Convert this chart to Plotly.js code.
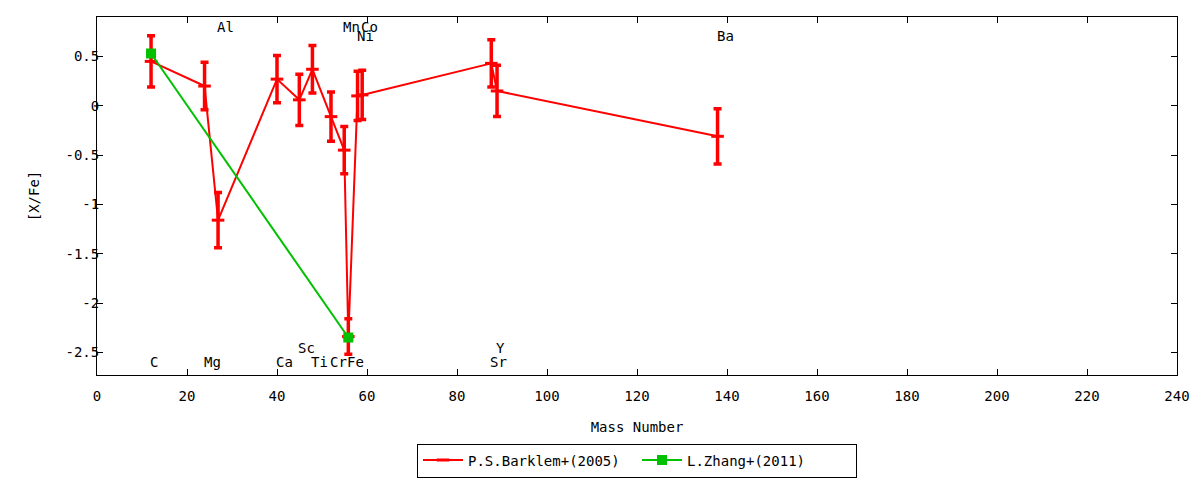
<!DOCTYPE html>
<html>
<head>
<meta charset="utf-8">
<script src="https://cdn.plot.ly/plotly-3.0.1.min.js"></script>
<style>
  html, body { margin: 0; padding: 0; background: #fff; }
  #chart { width: 1200px; height: 480px; }
</style>
</head>
<body>
<div id="chart"></div>
<script>
// P.S.Barklem+(2005)
var elements = ['C', 'Mg', 'Al', 'Ca', 'Sc', 'Ti', 'Cr', 'Mn', 'Fe', 'Ni', 'Co', 'Sr', 'Y', 'Ba'];
var mass     = [12.01, 23.9, 26.9, 40.0, 44.96, 47.87, 52.0, 54.94, 55.85, 57.9, 58.93, 87.62, 88.9, 137.9];
var barklem  = [0.45, 0.20, -1.16, 0.27, 0.06, 0.37, -0.11, -0.45, -2.34, 0.10, 0.11, 0.43, 0.15, -0.31];
var barklemErr = [0.26, 0.24, 0.28, 0.24, 0.26, 0.24, 0.25, 0.24, 0.18, 0.25, 0.25, 0.24, 0.26, 0.28];

// L.Zhang+(2011)
var zhangMass = [12.01, 55.85];
var zhang     = [0.53, -2.35];
var zhangErr  = [0.0, 0.0];

// which row each element name sits in (top rows / bottom rows)
var labelRow = ['b1', 'b1', 't1', 'b1', 'b2', 'b1', 'b1', 't1', 'b1', 't2', 't1', 'b1', 'b2', 't2'];
var rowY = { t1: 0.80, t2: 0.71, b2: -2.46, b1: -2.60 };

var yTicks = [0.5, 0, -0.5, -1, -1.5, -2, -2.5];
var yTickText = ['0.5', '0', '-0.5', '-1', '-1.5', '-2', '-2.5'];

var font = { family: 'DejaVu Sans Mono, monospace', size: 14, color: '#000' };

var traces = [
  {
    x: mass, y: barklem,
    name: 'P.S.Barklem+(2005)',
    type: 'scatter', mode: 'lines+markers',
    line: { color: '#ff0000', width: 2 },
    marker: { symbol: 'line-ew', size: 9, line: { color: '#ff0000', width: 3 } },
    error_y: { type: 'data', array: barklemErr, visible: true, color: '#ff0000', thickness: 3.5, width: 4 }
  },
  {
    x: zhangMass, y: zhang,
    name: 'L.Zhang+(2011)',
    type: 'scatter', mode: 'lines+markers',
    line: { color: '#00c000', width: 2 },
    marker: { symbol: 'square', size: 10, color: '#00c000' },
    error_y: { type: 'data', array: zhangErr, visible: true, color: '#00c000', thickness: 3.5, width: 5 }
  }
];

var annotations = elements.map(function (el, i) {
  return {
    x: mass[i], y: rowY[labelRow[i]],
    xref: 'x', yref: 'y',
    text: el, showarrow: false,
    xanchor: 'left', yanchor: 'middle',
    xshift: -2, borderpad: 0, font: font
  };
});

var layout = {
  width: 1200, height: 480,
  margin: { l: 97, r: 23, t: 17, b: 105 },
  paper_bgcolor: '#fff', plot_bgcolor: '#fff',
  font: font,
  showlegend: true,
  legend: {
    orientation: 'h', x: 0.5, xanchor: 'center',
    xref: 'paper', yref: 'container', y: 0.076, yanchor: 'top',
    bordercolor: '#000', borderwidth: 1, font: font,
    itemwidth: 40, entrywidth: 164, traceorder: 'normal'
  },
  xaxis: {
    range: [0, 240], dtick: 20, tick0: 0,
    ticks: 'inside', ticklen: 6, tickcolor: '#000',
    showline: true, linecolor: '#000', linewidth: 1, mirror: 'ticks',
    showgrid: false, zeroline: false, automargin: false,
    ticklabelstandoff: 8,
    title: { text: 'Mass Number', font: font, standoff: 19 }
  },
  yaxis: {
    range: [-2.73, 0.9],
    tickvals: yTicks, ticktext: yTickText,
    ticks: 'inside', ticklen: 6, tickcolor: '#000',
    showline: true, linecolor: '#000', linewidth: 1, mirror: 'ticks',
    showgrid: false, zeroline: false, automargin: false,
    ticklabelstandoff: -6,
    title: { text: '[X/Fe]', font: font, standoff: 22 }
  },
  annotations: annotations
};

Plotly.newPlot('chart', traces, layout, { displayModeBar: false, staticPlot: true });
</script>
</body>
</html>
